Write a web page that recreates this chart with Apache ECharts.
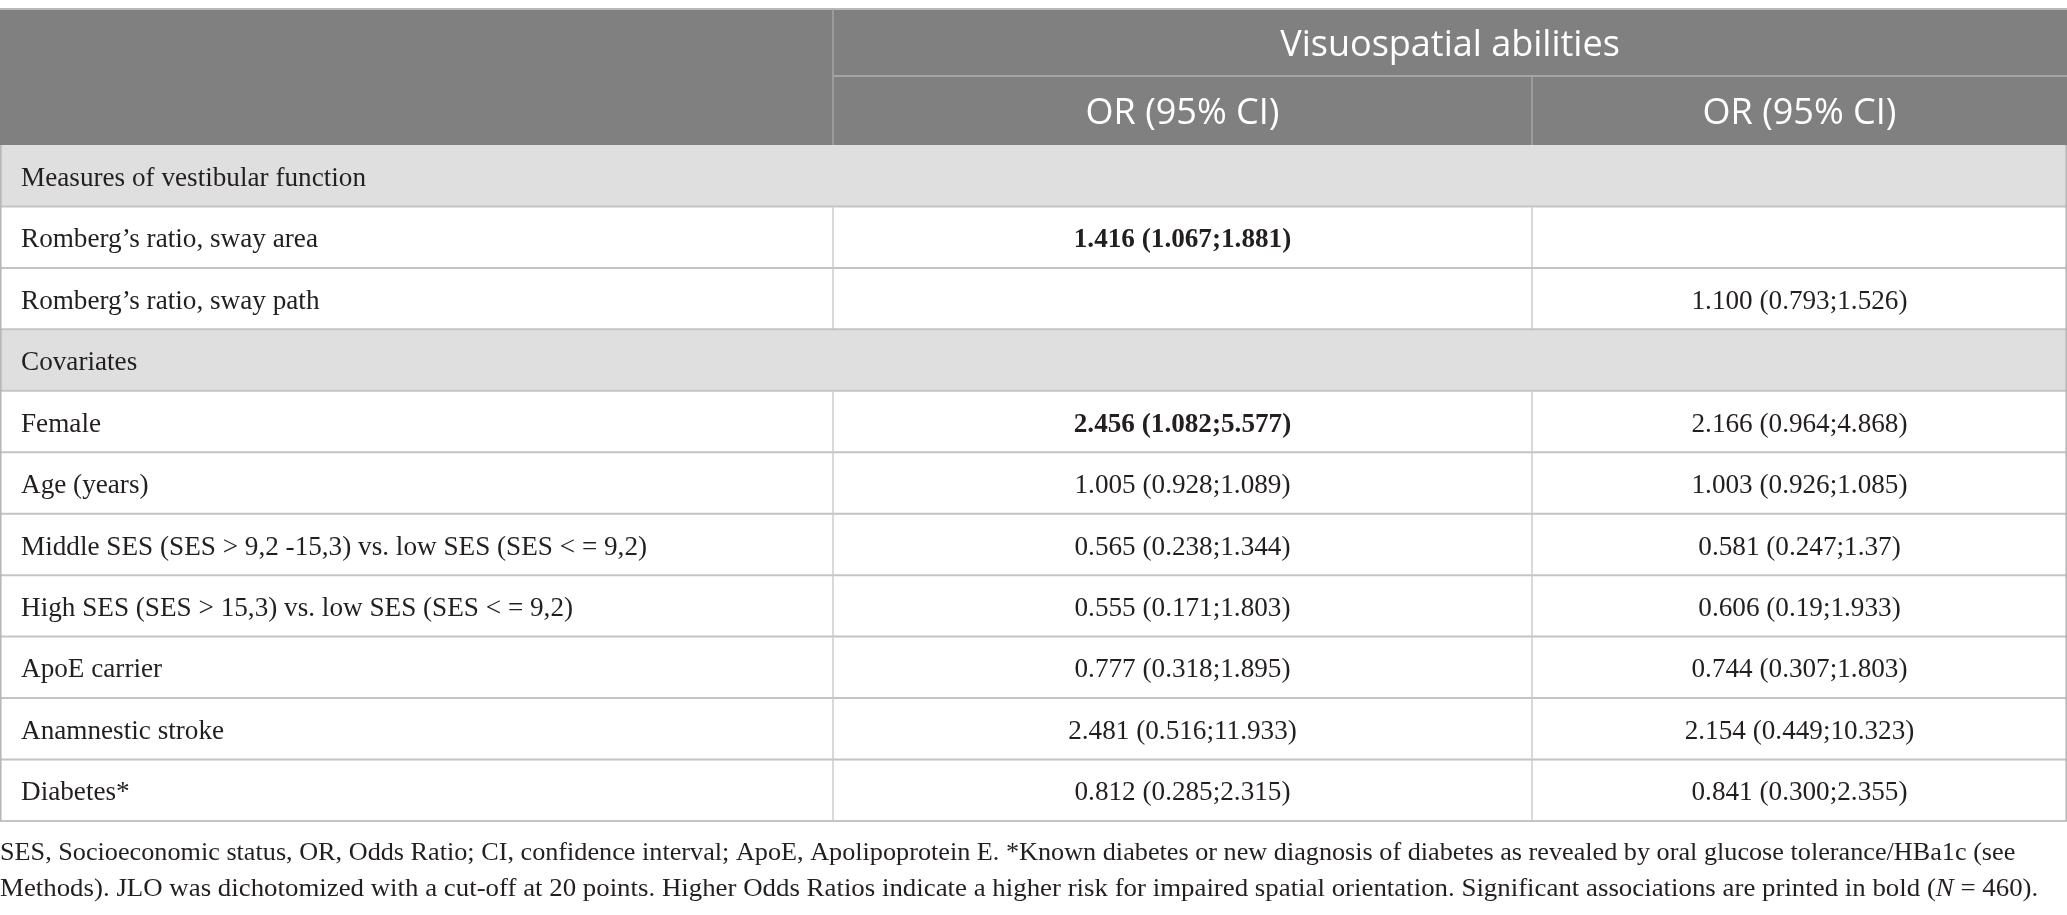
<!DOCTYPE html>
<html>
<head>
    <meta charset="utf-8">
    <title>Visuospatial abilities</title>
    <script src="https://cdn.jsdelivr.net/npm/echarts@6/dist/echarts.min.js"></script>
    <style>
        html, body { margin: 0; padding: 0; background: #fff; }
        #chart1 { width: 2067px; height: 915px; }
    </style>
</head>
<body>
<div id="chart1"></div>
<script type="text/javascript">
    // 表头
    var headerTop = 'Visuospatial abilities';
    var headerSub = ['OR (95% CI)', 'OR (95% CI)'];

    // 分组标题和每行所属分组
    var groupTitles = ['Measures of vestibular function', 'Covariates'];
    var rowGroup = [0, 0, 1, 1, 1, 1, 1, 1, 1];

    // 行名
    var rowNames = [
        'Romberg\u2019s ratio, sway area',
        'Romberg\u2019s ratio, sway path',
        'Female',
        'Age (years)',
        'Middle SES (SES > 9,2 -15,3) vs. low SES (SES < = 9,2)',
        'High SES (SES > 15,3) vs. low SES (SES < = 9,2)',
        'ApoE carrier',
        'Anamnestic stroke',
        'Diabetes*'
    ];

    // 两个模型的 OR (95% CI)
    var orModel1 = ['1.416 (1.067;1.881)', '', '2.456 (1.082;5.577)', '1.005 (0.928;1.089)', '0.565 (0.238;1.344)',
        '0.555 (0.171;1.803)', '0.777 (0.318;1.895)', '2.481 (0.516;11.933)', '0.812 (0.285;2.315)'];
    var orModel2 = ['', '1.100 (0.793;1.526)', '2.166 (0.964;4.868)', '1.003 (0.926;1.085)', '0.581 (0.247;1.37)',
        '0.606 (0.19;1.933)', '0.744 (0.307;1.803)', '2.154 (0.449;10.323)', '0.841 (0.300;2.355)'];
    // 显著 -> 粗体
    var significant1 = [true, false, true, false, false, false, false, false, false];
    var significant2 = [false, false, false, false, false, false, false, false, false];

    var footnoteLines = [
        'SES, Socioeconomic status, OR, Odds Ratio; CI, confidence interval; ApoE, Apolipoprotein E. *Known diabetes or new diagnosis of diabetes as revealed by oral glucose tolerance/HBa1c (see',
        'Methods). JLO was dichotomized with a cut-off at 20 points. Higher Odds Ratios indicate a higher risk for impaired spatial orientation. Significant associations are printed in bold ({i|N} = 460).'
    ];

    // 布局（像素）
    var colEdges = [0, 833, 1532, 2067];
    var headH = [67, 69];
    var rowH = 61.45;
    var totalH = headH[0] + headH[1] + rowH * (rowNames.length + groupTitles.length);
    var footStretch = [1.008, 1.033]; // 原图脚注两端对齐

    var serif = '"Liberation Serif", "Times New Roman", serif';
    var sans = '"Open Sans", "Noto Sans", sans-serif';
    var headBg = '#7f807f', groupBg = '#e0dfe0', headLine = '#a4a5a4', rowLine = '#c4c4c4', colLine = '#cdcdcd';
    var bodySize = 27.2, headSize = 36;

    var cells = [];
    var rules = [];

    // 表头单元格
    cells.push({x0: colEdges[0], x1: colEdges[1], y0: 0, y1: headH[0] + headH[1], fill: headBg, text: ''});
    cells.push({x0: colEdges[1], x1: colEdges[3], y0: 0, y1: headH[0], fill: headBg, text: headerTop,
        align: 'center', font: sans, size: headSize, color: '#fff'});
    for (var k = 0; k < 2; k++) {
        cells.push({x0: colEdges[k + 1], x1: colEdges[k + 2], y0: headH[0], y1: headH[0] + headH[1], fill: headBg,
            text: headerSub[k], align: 'center', font: sans, size: headSize, color: '#fff'});
    }
    rules.push({x0: colEdges[0], y0: 0, x1: colEdges[3], y1: 0, color: '#b9b9b9', width: 2});
    rules.push({x0: colEdges[1], y0: headH[0], x1: colEdges[3], y1: headH[0], color: headLine, width: 2});
    rules.push({x0: colEdges[1], y0: 0, x1: colEdges[1], y1: headH[0] + headH[1], color: headLine, width: 1.5});
    rules.push({x0: colEdges[2], y0: headH[0], x1: colEdges[2], y1: headH[0] + headH[1], color: headLine, width: 1.5});

    // 表体
    var y = headH[0] + headH[1];
    var lastGroup = -1;
    rowNames.forEach(function (name, i) {
        if (rowGroup[i] !== lastGroup) {
            lastGroup = rowGroup[i];
            cells.push({x0: colEdges[0], x1: colEdges[3], y0: y, y1: y + rowH, fill: groupBg,
                text: groupTitles[lastGroup], align: 'left', font: serif, size: bodySize, color: '#231f20'});
            rules.push({x0: colEdges[0], y0: y + rowH, x1: colEdges[3], y1: y + rowH, color: rowLine, width: 2});
            y += rowH;
        }
        cells.push({x0: colEdges[0], x1: colEdges[1], y0: y, y1: y + rowH, fill: '#fff',
            text: name, align: 'left', font: serif, size: bodySize, color: '#231f20'});
        cells.push({x0: colEdges[1], x1: colEdges[2], y0: y, y1: y + rowH, fill: '#fff',
            text: orModel1[i], align: 'center', font: serif, size: bodySize, color: '#231f20',
            weight: significant1[i] ? 'bold' : 'normal'});
        cells.push({x0: colEdges[2], x1: colEdges[3], y0: y, y1: y + rowH, fill: '#fff',
            text: orModel2[i], align: 'center', font: serif, size: bodySize, color: '#231f20',
            weight: significant2[i] ? 'bold' : 'normal'});
        rules.push({x0: colEdges[1], y0: y, x1: colEdges[1], y1: y + rowH, color: colLine, width: 1.5});
        rules.push({x0: colEdges[2], y0: y, x1: colEdges[2], y1: y + rowH, color: colLine, width: 1.5});
        rules.push({x0: colEdges[0], y0: y + rowH, x1: colEdges[3], y1: y + rowH, color: rowLine, width: 2});
        y += rowH;
    });
    // 外框
    rules.push({x0: colEdges[0] + 0.8, y0: headH[0] + headH[1], x1: colEdges[0] + 0.8, y1: totalH, color: '#b5b5b5', width: 1.5});
    rules.push({x0: colEdges[3] - 0.8, y0: headH[0] + headH[1], x1: colEdges[3] - 0.8, y1: totalH, color: '#b5b5b5', width: 1.5});

    var myChart1 = echarts.init(document.getElementById('chart1'));

    myChart1.setOption({
        animation: false,
        grid: {left: 0, right: 0, top: 9, height: totalH},
        xAxis: {type: 'value', min: 0, max: colEdges[3], show: false},
        yAxis: {type: 'value', min: 0, max: totalH, inverse: true, show: false},
        series: [
            {
                type: 'custom',
                name: 'cells',
                data: cells.map(function (c) { return [c.x0, c.x1, c.y0, c.y1]; }),
                encode: {x: [0, 1], y: [2, 3]},
                renderItem: function (params, api) {
                    var c = cells[params.dataIndex];
                    var p0 = api.coord([api.value(0), api.value(2)]);
                    var p1 = api.coord([api.value(1), api.value(3)]);
                    var children = [{
                        type: 'rect',
                        shape: {x: p0[0], y: p0[1], width: p1[0] - p0[0], height: p1[1] - p0[1]},
                        style: {fill: c.fill}
                    }];
                    if (c.text) {
                        children.push({
                            type: 'text',
                            style: {
                                text: c.text,
                                x: c.align === 'left' ? p0[0] + 21 : (p0[0] + p1[0]) / 2,
                                y: (p0[1] + p1[1]) / 2 + 3,
                                align: c.align,
                                verticalAlign: 'middle',
                                fontFamily: c.font,
                                fontSize: c.size,
                                fontWeight: c.weight || 'normal',
                                fill: c.color
                            }
                        });
                    }
                    return {type: 'group', children: children};
                }
            },
            {
                type: 'custom',
                name: 'rules',
                z: 3,
                data: rules.map(function (r) { return [r.x0, r.y0, r.x1, r.y1]; }),
                encode: {x: [0, 2], y: [1, 3]},
                renderItem: function (params, api) {
                    var r = rules[params.dataIndex];
                    var a = api.coord([api.value(0), api.value(1)]);
                    var b = api.coord([api.value(2), api.value(3)]);
                    return {
                        type: 'line',
                        shape: {x1: a[0], y1: a[1], x2: b[0], y2: b[1]},
                        style: {stroke: r.color, lineWidth: r.width}
                    };
                }
            }
        ],
        graphic: footnoteLines.map(function (t, i) {
            return {
                type: 'text',
                x: 0,
                y: 853 + i * 36,
                scaleX: footStretch[i],
                style: {
                    text: t,
                    verticalAlign: 'middle',
                    fontFamily: serif,
                    fontSize: 26,
                    fill: '#231f20',
                    rich: {i: {fontStyle: 'italic', fontFamily: serif, fontSize: 26, fill: '#231f20'}}
                }
            };
        })
    });
</script>
</body>
</html>
